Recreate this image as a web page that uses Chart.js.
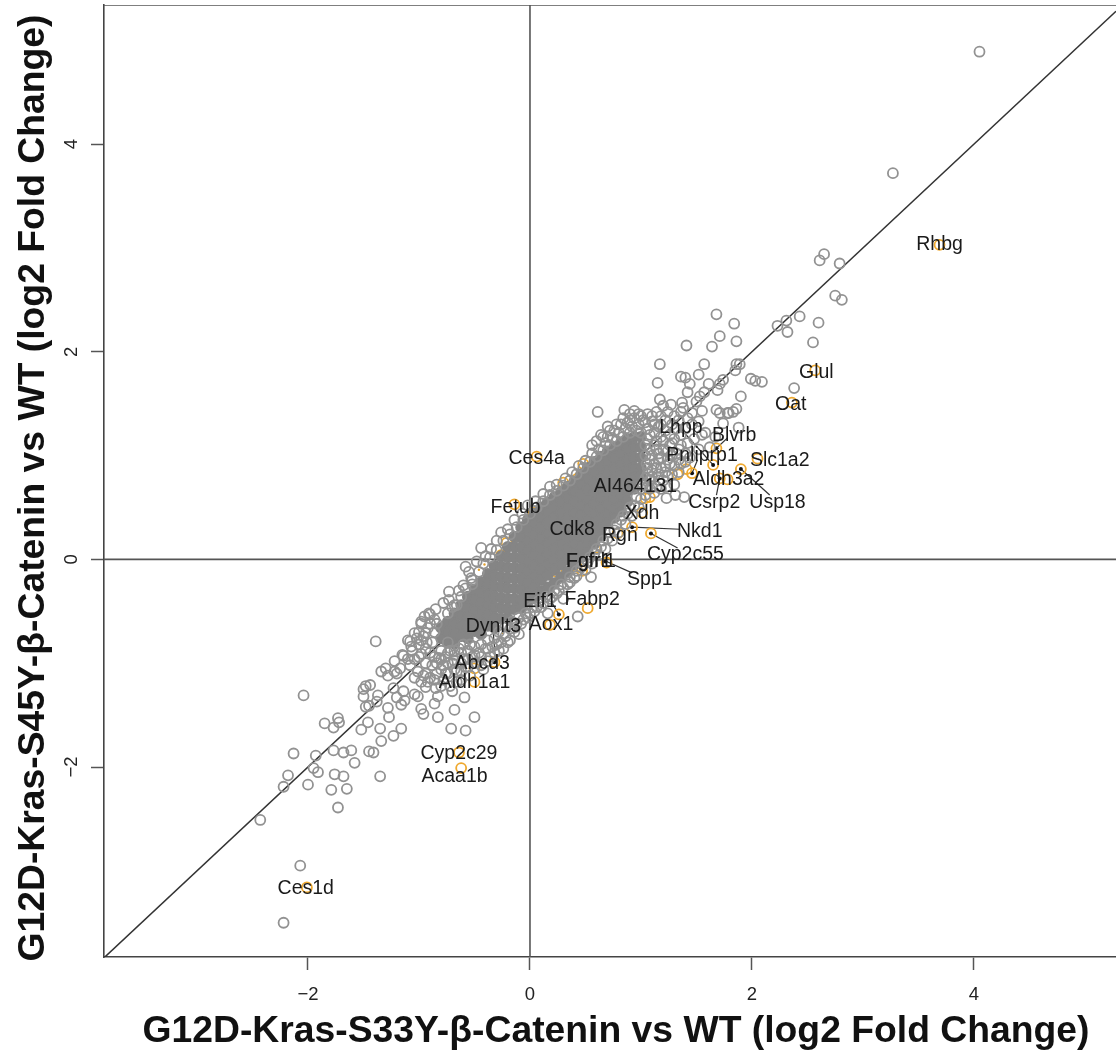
<!DOCTYPE html>
<html>
<head>
<meta charset="utf-8">
<title>Fold change scatter</title>
<script src="https://cdn.jsdelivr.net/npm/chart.js@4"></script>
<style>
  body { margin: 0; background: #fff; }
  canvas { display: block; }
</style>
</head>
<body>
<canvas id="scatter" width="1116" height="1055"></canvas>
<script>
// Axis limits and ticks
const xLimits = [-3.838, 5.28];
const yLimits = [-3.83, 5.34];
const tickStep = 2;

// Rings that can be told apart: [x, y]
const outerPoints = [
  [4.05,4.89],[3.27,3.72],[2.65,2.94],[2.61,2.88],[2.79,2.85],[2.75,2.54],[2.81,2.50],[2.43,2.34],[2.60,2.28],[2.31,2.30],
  [2.23,2.25],[2.32,2.19],[2.55,2.09],[1.68,2.36],[1.84,2.27],[1.71,2.15],[1.86,2.10],[1.64,2.05],[1.41,2.06],[1.17,1.88],
  [1.57,1.88],[1.86,1.88],[1.89,1.88],[1.85,1.82],[1.52,1.78],[1.36,1.76],[1.40,1.75],[1.15,1.70],[1.44,1.69],[1.99,1.74],
  [2.03,1.72],[2.09,1.71],[1.61,1.69],[1.74,1.73],[1.71,1.69],[1.69,1.63],[1.42,1.61],[1.57,1.61],[1.53,1.57],[1.90,1.57],
  [2.38,1.65],[1.17,1.54],[1.50,1.52],[1.20,1.48],[1.27,1.49],[1.37,1.51],[1.38,1.46],[1.55,1.43],[1.68,1.44],[1.79,1.41],
  [1.86,1.45],[1.46,1.41],[1.88,1.27],[1.74,1.31],[1.02,1.34],[1.10,1.33],[1.55,1.20],[1.67,1.18],
  [-2.43,-2.51],[-2.07,-2.95],[-2.22,-3.50],[-2.04,-1.31],[-1.39,-0.79],[-2.13,-1.87],[-2.18,-2.08],[-2.22,-2.19],[-1.93,-1.89],[-1.95,-2.01],
  [-1.91,-2.05],[-2.00,-2.17],[-1.85,-1.58],[-1.77,-1.62],[-1.73,-1.53],[-1.72,-1.57],[-1.77,-1.84],[-1.68,-1.86],[-1.61,-1.84],[-1.58,-1.96],
  [-1.76,-2.07],[-1.68,-2.09],[-1.79,-2.22],[-1.65,-2.21],[-1.73,-2.39],[-1.35,-2.09],[-1.45,-1.85],[-1.41,-1.86],[-1.52,-1.64],[-1.46,-1.57],
  [-1.35,-1.63],[-1.34,-1.75],[-1.23,-1.70],[-1.16,-1.63],[-1.27,-1.52],[-1.28,-1.43],[-1.48,-1.42],[-1.45,-1.41],[-1.38,-1.37],[-1.37,-1.31],
  [-1.50,-1.32],[-1.50,-1.25],[-1.48,-1.22],[-1.44,-1.21],[-1.23,-1.24],[-1.14,-1.27],[-1.20,-1.33],[-1.13,-1.36],[-1.16,-1.40],[-1.22,-1.08],
  [-1.17,-1.05],[-1.14,-0.93],[-1.08,-1.02],[-1.07,-0.84],[-1.08,-0.79],[-1.04,-0.71],[-0.98,-0.60],[-0.90,-0.53],[-0.86,-0.58],[-0.94,-0.71],
  [-0.98,-0.78],[-0.93,-0.80],[-0.98,-0.91],[-1.01,-1.08],[-1.04,-1.30],[-1.01,-1.32],[-0.98,-1.44],[-0.96,-1.49],[-0.86,-1.39],[-0.83,-1.32],
  [-0.83,-1.52],[-0.68,-1.45],[-0.71,-1.63],[-0.58,-1.65],[-0.50,-1.52],[-0.59,-1.33],[-0.70,-1.27],[-0.85,-1.24],[-0.94,-1.23],
  [0.61,1.42],[0.85,1.44],[0.94,1.43],[-0.44,0.11],[-0.58,-0.07],[-0.53,-0.18],[-0.73,-0.31],[-0.73,-0.39],[-0.91,-0.52],[-0.98,-0.62],
  [-1.00,-0.70],[-1.15,-0.92],[0.55,-0.17],[0.43,-0.55],[1.23,0.59],[1.31,0.62],[1.39,0.60],[1.23,0.70],[1.83,1.42],[1.71,1.41],[1.78,1.41]
];

// Rings along the edge of the dense band, estimated: [x, y]
const fringePoints = [
  [-0.60,-0.25],[-0.55,-0.12],[-0.48,-0.02],[-0.40,0.03],[-0.35,0.10],[-0.30,0.18],[-0.26,0.26],[-0.20,0.29],[-0.14,0.38],[-0.07,0.44],
  [-0.02,0.52],[0.05,0.56],[0.12,0.63],[0.18,0.70],[0.24,0.72],[0.32,0.78],[0.38,0.84],[0.44,0.90],[0.50,0.95],[0.56,1.02],
  [0.62,1.06],[0.68,1.12],[0.74,1.17],[0.80,1.22],[0.86,1.26],[0.92,1.28],[0.98,1.30],[1.04,1.32],[0.72,1.24],[0.78,1.30],
  [0.84,1.36],[0.90,1.34],[1.00,1.22],[1.06,1.16],[1.12,1.22],[1.16,1.28],[1.18,1.38],[1.24,1.42],[1.28,1.30],[1.34,1.34],
  [1.40,1.26],[1.46,1.30],[1.52,1.33],[1.30,1.16],[1.36,1.20],[1.20,1.06],[1.14,1.06],[1.08,1.06],[1.26,1.10],[1.16,0.96],
  [1.22,0.90],[1.10,0.86],[1.16,0.82],[1.05,0.92],[1.28,1.00],[1.34,1.06],[1.42,1.12],[1.48,1.16],[1.58,1.22],[1.62,1.08],
  [1.52,1.06],[1.44,0.98],[1.36,0.92],[-0.24,-0.72],[-0.18,-0.67],[-0.12,-0.62],[-0.06,-0.58],[0.00,-0.52],[0.06,-0.46],[0.12,-0.42],
  [0.18,-0.38],[0.24,-0.33],[0.30,-0.27],[0.36,-0.22],[0.42,-0.16],[0.50,-0.10],[0.56,-0.04],[0.62,0.04],[0.68,0.10],[0.74,0.18],
  [0.80,0.26],[0.86,0.34],[0.92,0.42],[0.98,0.50],[1.04,0.62],[1.10,0.70],[1.16,0.76],[0.16,-0.52],[0.30,-0.38],[-0.10,-0.72],
  [-1.10,-0.96],[-1.06,-0.88],[-1.00,-0.82],[-0.96,-0.74],[-0.92,-0.66],[-0.90,-0.90],[-0.88,-0.80],[-0.86,-0.70],[-0.84,-0.62],[-0.82,-0.95],
  [-0.80,-0.88],[-0.78,-1.02],[-0.76,-0.94],[-0.74,-1.10],[-0.72,-0.88],[-0.70,-1.00],[-0.68,-0.92],[-0.66,-1.08],[-0.64,-0.86],[-0.62,-1.16],
  [-0.60,-0.96],[-0.58,-1.04],[-0.56,-0.88],[-0.54,-1.12],[-0.52,-0.94],[-0.50,-0.84],[-0.48,-1.00],[-0.46,-0.90],[-0.44,-0.82],[-0.42,-1.06],
  [-0.40,-0.86],[-0.38,-0.78],[-0.36,-0.94],[-0.34,-0.84],[-0.32,-0.76],[-0.28,-0.88],[-0.26,-0.80],[-0.22,-0.74],[-0.18,-0.78],[-0.72,-1.22],
  [-0.78,-1.16],[-0.84,-1.10],[-0.90,-1.14],[-0.96,-1.12],[-0.88,-1.02],[-0.94,-1.00],[-1.00,-0.94],[-1.04,-1.14],[-0.66,-1.18],[-0.74,-0.80],
  [-0.68,-0.88],[-0.95,-0.55],[-0.90,-0.62],[-0.85,-0.48],[-0.78,-0.42],[-0.70,-0.46],[-1.20,-1.10],[-1.28,-1.12],[-1.30,-1.05],[-1.34,-1.08],
  [-1.10,-0.78],[-1.22,-0.98],[-0.92,-1.18],[-0.86,-1.16],[-0.80,-1.22],[-0.66,-0.44],[-0.64,-0.30],[-0.52,-0.24],
  [0.66,1.18],[0.70,1.28],[0.76,1.24],[0.82,1.30],[0.88,1.32],[0.94,1.36],[1.00,1.38],[1.06,1.26],[1.10,1.38],[1.14,1.14],
  [1.18,1.18],[1.22,1.24],[1.26,1.20],[1.32,1.26],[1.08,1.20],[1.04,1.10],[1.10,1.00],[1.06,0.82],[1.02,0.72],[1.08,0.76],
  [1.12,0.92],[1.18,0.88],[1.24,0.96],[1.30,0.90],[1.24,0.80],[1.30,0.72],[1.14,0.70],[1.20,0.76],[1.00,0.68],[0.96,0.60],
  [0.90,0.50],[0.84,0.42],[0.78,0.34],[0.72,0.26],[0.66,0.18],[0.60,0.10],[0.54,0.02],[0.48,-0.05],[0.42,-0.11],[0.36,-0.17],
  [0.28,-0.24],[0.22,-0.30],[0.14,-0.36],[0.08,-0.40],[0.02,-0.46],[-0.04,-0.52],[-0.10,-0.56],[-0.16,-0.60],[-0.22,-0.64],[-0.28,-0.70],
  [-0.74,-0.52],[-0.68,-0.44],[-0.62,-0.36],[-0.58,-0.28],[-0.52,-0.20],[-0.46,-0.12],[-0.42,-0.04],[-0.36,0.02],[-0.30,0.09],[-0.24,0.18],
  [-0.18,0.24],[-0.12,0.31],[-0.06,0.38],[0.00,0.44],[0.06,0.50],[0.12,0.56],[0.18,0.62],[0.24,0.66],[0.30,0.71],[0.36,0.76],
  [0.42,0.82],[0.48,0.88],[0.54,0.94],[0.60,0.99],[0.66,1.05],[0.72,1.10],[0.78,1.14],[0.84,1.18],[0.90,1.22],[0.96,1.24],
  [0.56,1.10],[0.60,1.14],[0.64,1.20],[0.70,1.18],
  [-0.86,-0.94],[-0.80,-0.96],[-0.74,-0.90],[-0.74,-1.00],[-0.68,-0.98],[-0.68,-1.06],[-0.62,-0.90],[-0.62,-1.00],[-0.62,-1.08],[-0.56,-0.96],
  [-0.56,-1.04],[-0.50,-0.92],[-0.50,-1.00],[-0.44,-0.94],[-0.44,-1.02],[-0.38,-0.86],[-0.38,-0.98],[-0.32,-0.90],[-0.30,-0.82],[-0.24,-0.86],
  [-0.20,-0.80],[-0.14,-0.70],[-0.94,-0.86],[-1.02,-0.76],[-1.04,-0.96],[-0.98,-1.18],[-0.94,-1.10],[-0.84,-1.00],[-0.80,-1.06],[-0.76,-1.10],
  [-0.60,-0.82],[-0.54,-0.82],
  [1.04,1.00],[1.08,0.96],[1.12,1.10],[1.16,1.02],[1.20,1.14],[1.24,1.04],[1.28,1.12],[1.32,1.02],[1.36,1.10],[1.40,1.02],
  [1.06,0.88],[1.10,0.80],[1.14,0.88],[1.18,0.98],[1.22,0.84],[1.26,0.92],[1.28,0.82],[1.34,0.84],[1.34,0.96],[1.40,0.94],
  [1.04,0.78],[1.08,0.68],[1.12,0.64],[1.18,0.68],[1.06,0.70],[1.00,0.58],[0.94,0.52],[0.88,0.44],[0.82,0.38],[0.76,0.28],
  [0.70,0.20],[0.64,0.12],[0.58,0.06],[0.52,-0.02],[0.46,-0.08],[0.40,-0.18],[0.34,-0.24],[0.26,-0.30],[0.20,-0.36],[0.10,-0.46],
  [0.04,-0.50],[-0.02,-0.56],[-0.08,-0.62],[-0.14,-0.66],[1.12,1.30],[1.18,1.30],[1.22,1.34],[1.30,1.38],[1.36,1.42],[1.42,1.36],
  [1.14,1.42],[1.06,1.40],[0.98,1.40],[0.90,1.40]
];

// Solid part of the band, too dense to tell rings apart, estimated: [x, [y, ...]]
const coreColumns = [
  [-0.80,[-0.66,-0.76]],
  [-0.74,[-0.60,-0.70,-0.80]],
  [-0.68,[-0.52,-0.62,-0.72,-0.81]],
  [-0.62,[-0.44,-0.54,-0.64,-0.74]],
  [-0.56,[-0.36,-0.46,-0.56,-0.66,-0.76]],
  [-0.50,[-0.29,-0.39,-0.49,-0.59,-0.69]],
  [-0.44,[-0.22,-0.32,-0.42,-0.52,-0.62,-0.72]],
  [-0.38,[-0.14,-0.24,-0.34,-0.44,-0.54,-0.64]],
  [-0.32,[-0.06,-0.16,-0.26,-0.36,-0.46,-0.56,-0.66]],
  [-0.26,[0.03,-0.07,-0.17,-0.27,-0.37,-0.47,-0.57]],
  [-0.20,[0.12,0.02,-0.08,-0.18,-0.28,-0.38,-0.48,-0.57]],
  [-0.14,[0.22,0.12,0.02,-0.08,-0.18,-0.28,-0.38,-0.48]],
  [-0.08,[0.31,0.21,0.11,0.01,-0.09,-0.19,-0.29,-0.39,-0.47]],
  [-0.02,[0.38,0.28,0.18,0.08,-0.02,-0.12,-0.22,-0.32,-0.41]],
  [0.04,[0.44,0.34,0.24,0.14,0.04,-0.06,-0.16,-0.26,-0.36]],
  [0.10,[0.50,0.40,0.30,0.20,0.10,0.00,-0.10,-0.20,-0.31]],
  [0.16,[0.55,0.45,0.35,0.25,0.15,0.05,-0.05,-0.15,-0.27]],
  [0.22,[0.60,0.50,0.40,0.30,0.20,0.10,0.00,-0.10,-0.23]],
  [0.28,[0.65,0.55,0.45,0.35,0.25,0.15,0.05,-0.05,-0.17]],
  [0.34,[0.70,0.60,0.50,0.40,0.30,0.20,0.10,0.00,-0.12]],
  [0.40,[0.75,0.65,0.55,0.45,0.35,0.25,0.15,0.05,-0.05]],
  [0.46,[0.82,0.72,0.62,0.52,0.42,0.32,0.22,0.12,0.02]],
  [0.52,[0.88,0.78,0.68,0.58,0.48,0.38,0.28,0.18,0.08]],
  [0.58,[0.94,0.84,0.74,0.64,0.54,0.44,0.34,0.24,0.15]],
  [0.64,[0.99,0.89,0.79,0.69,0.59,0.49,0.39,0.30,0.23]],
  [0.70,[1.04,0.94,0.84,0.74,0.64,0.54,0.44,0.35]],
  [0.76,[1.08,0.98,0.88,0.78,0.68,0.58,0.48,0.40]],
  [0.82,[1.12,1.02,0.92,0.82,0.72,0.62,0.52,0.46]],
  [0.88,[1.16,1.06,0.96,0.86,0.76,0.66,0.56]],
  [0.94,[1.18,1.08,0.98,0.88,0.78,0.68]],
  [1.00,[1.18,1.08,0.98,0.88,0.80]]
];

// Highlighted genes
const orangePoints = [
  [3.69,3.03],[2.57,1.82],[2.36,1.51],[0.06,0.99],[0.48,0.92],[0.30,0.74],[0.34,0.70],[0.43,0.78],[-0.14,0.53],[0.03,0.45],
  [-0.26,0.04],[-0.21,0.16],[1.68,1.07],[1.65,0.91],[1.46,0.83],[1.33,0.82],[1.41,0.87],[1.90,0.87],[1.71,0.78],[1.78,0.77],
  [2.05,0.97],[1.04,0.59],[1.08,0.60],[1.01,0.45],[0.92,0.31],[1.09,0.25],[0.79,0.25],[0.69,-0.03],[0.47,-0.11],[0.24,-0.12],
  [0.42,-0.07],[0.59,0.11],[0.26,-0.53],[0.52,-0.47],[0.18,-0.63],[-0.64,-1.86],[-0.62,-2.01],[-0.50,-1.05],[-0.50,-1.18],[-0.32,-0.99],
  [-2.01,-3.16]
];

// Bits of orange rings showing through the gray
const orangeSpecks = [
  [0.23,-0.10],[0.29,-0.17],[0.35,-0.12],[0.44,0.15],[0.55,0.14],[-0.13,-0.41],[-0.25,-0.71],[-0.22,-0.68],[0.02,0.41],[0.01,0.35],[-0.46,-0.10],[-0.41,-0.05]
];

// Small black dots at the ends of the leader lines
const dotPoints = [
  [1.68,1.07],[1.65,0.91],[1.46,0.83],[1.90,0.87],[1.71,0.78],[0.92,0.31],[1.09,0.25],[0.26,-0.53],[0.47,-0.11],[0.68,-0.02],[-0.32,-0.99]
];

// Leader lines: [x1, y1, x2, y2]
const leaderLines = [
  [1.39,1.22,1.65,0.91],[1.78,1.17,1.68,1.07],[1.46,0.83,1.51,0.96],[1.71,0.78,1.68,0.62],[1.90,0.87,2.16,0.62],
  [0.92,0.31,1.35,0.29],[1.09,0.25,1.33,0.11],[0.69,-0.02,0.92,-0.13],[0.39,0.24,0.45,-0.10],[0.26,-0.53,0.20,-0.42],[-0.33,-0.71,-0.31,-0.99]
];

const labelNames = ['Rhbg','Glul','Oat','Lhpp','Blvrb','Ces4a','Pnliprp1','Slc1a2','Aldh3a2','AI464131','Csrp2','Usp18','Fetub','Xdh','Nkd1','Cdk8','Rgn','Cyp2c55','Fgfr1','Fgfrl1','Spp1','Fabp2','Eif1','Aox1','Dynlt3','Abcd3','Aldh1a1','Cyp2c29','Acaa1b','Ces1d'];
const labelX = [3.69,2.58,2.35,1.36,1.84,0.06,1.55,2.25,1.79,0.95,1.66,2.23,-0.13,1.01,1.53,0.38,0.81,1.40,0.53,0.55,1.08,0.56,0.09,0.19,-0.33,-0.43,-0.50,-0.64,-0.68,-2.02];
const labelY = [3.04,1.81,1.50,1.28,1.20,0.98,1.01,0.96,0.78,0.71,0.56,0.56,0.51,0.45,0.28,0.30,0.24,0.06,-0.01,-0.01,-0.19,-0.38,-0.40,-0.62,-0.64,-0.99,-1.18,-1.86,-2.08,-3.16];

const xTitle = 'G12D-Kras-S33Y-\u03b2-Catenin vs WT (log2 Fold Change)';
const yTitle = 'G12D-Kras-S45Y-\u03b2-Catenin vs WT (log2 Fold Change)';

const fontFamily = '"Liberation Sans", Arial, sans-serif';
const toXY = p => ({ x: p[0], y: p[1] });
const corePoints = coreColumns.flatMap(c => c[1].map(y => ({ x: c[0], y: y })));

// names and axis titles drawn on top of everything, like text() after points() in R
const chartText = {
  id: 'chartText',
  afterDatasetsDraw(chart) {
    const { ctx, scales } = chart;
    ctx.save();
    ctx.textAlign = 'center';
    ctx.textBaseline = 'middle';
    ctx.font = '19.5px ' + fontFamily;
    ctx.fillStyle = '#1a1a1a';
    labelNames.forEach((name, i) => {
      ctx.fillText(name, scales.x.getPixelForValue(labelX[i]), scales.y.getPixelForValue(labelY[i]) + 1);
    });
    ctx.font = 'bold 37.3px ' + fontFamily;
    ctx.fillStyle = '#111';
    ctx.fillText(xTitle, 616, 1032);
    ctx.translate(34, 488);
    ctx.rotate(-Math.PI / 2);
    ctx.fillText(yTitle, 0, 0);
    ctx.restore();
  }
};

function refLine(a, b, color, width) {
  return {
    data: [a, b], showLine: true, pointRadius: 0,
    borderColor: color, borderWidth: width
  };
}

const rings = { pointRadius: 5, pointBorderWidth: 1.8, pointBorderColor: '#929292', pointBackgroundColor: 'transparent', showLine: false };

const datasets = [
  { ...rings, data: outerPoints.map(toXY) },
  { ...rings, data: fringePoints.map(toXY) },
  { ...rings, data: corePoints, pointBackgroundColor: '#858585', pointBorderColor: '#858585' },
  { ...rings, data: orangePoints.map(toXY), pointBorderColor: '#efa92f' },
  { data: orangeSpecks.map(toXY), pointRadius: 1.2, pointBorderWidth: 0, pointBackgroundColor: '#e0a030', showLine: false },
  { data: dotPoints.map(toXY), pointRadius: 2, pointBorderWidth: 0, pointBackgroundColor: '#111', showLine: false },
  refLine({ x: xLimits[0], y: xLimits[0] }, { x: xLimits[1], y: xLimits[1] }, '#333', 1.5),
  refLine({ x: xLimits[0], y: 0 }, { x: xLimits[1], y: 0 }, '#555', 1.6),
  refLine({ x: 0, y: yLimits[0] }, { x: 0, y: yLimits[1] }, '#555', 1.6),
  refLine({ x: xLimits[0], y: yLimits[1] }, { x: xLimits[1], y: yLimits[1] }, '#555', 1.6)
];
leaderLines.forEach(l => {
  datasets.push(refLine({ x: l[0], y: l[1] }, { x: l[2], y: l[3] }, '#333', 1.2));
});

// fixed axis sizes so the plot area sits where it does in the picture
function fitAxis(size, value) {
  return s => {
    s[size] = value;
    s.paddingLeft = s.paddingRight = s.paddingTop = s.paddingBottom = 0;
  };
}

function axis(limits, fit, extraTicks) {
  return {
    type: 'linear',
    min: limits[0],
    max: limits[1],
    afterFit: fit,
    border: { display: true, color: '#444', width: 1.6 },
    grid: { color: 'transparent', drawTicks: true, tickLength: 13, tickColor: '#555', tickWidth: 1.5 },
    ticks: {
      stepSize: tickStep,
      includeBounds: false,
      color: '#222',
      font: { size: 18.5, family: fontFamily },
      callback: v => String(v).replace('-', '\u2212'),
      ...extraTicks
    }
  };
}

new Chart(document.getElementById('scatter').getContext('2d'), {
  type: 'scatter',
  data: { datasets: datasets },
  plugins: [chartText],
  options: {
    responsive: false,
    animation: false,
    layout: { autoPadding: false, padding: { top: 5, right: 0, left: 0, bottom: 0 } },
    plugins: { legend: { display: false }, tooltip: { enabled: false } },
    scales: {
      x: axis(xLimits, fitAxis('height', 98), { padding: 14, maxRotation: 0 }),
      y: axis(yLimits, fitAxis('width', 104), { padding: 9, minRotation: 90, maxRotation: 90, crossAlign: 'center' })
    }
  }
});
</script>
</body>
</html>
